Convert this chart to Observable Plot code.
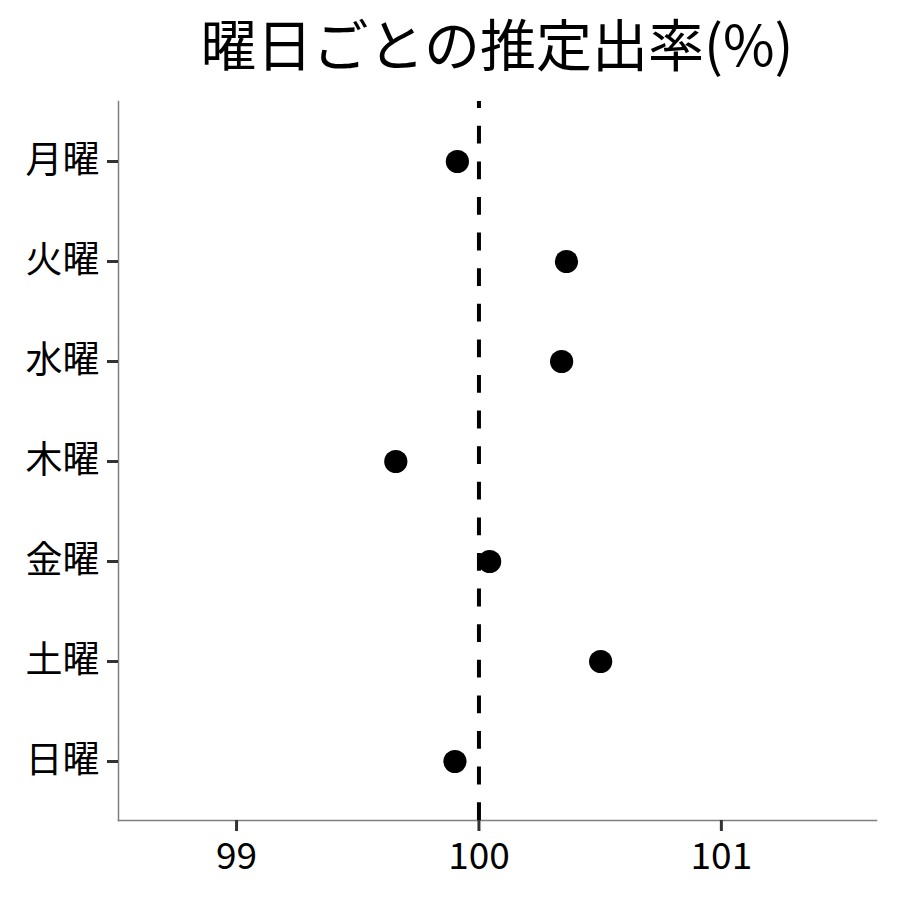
<!DOCTYPE html>
<html><head><meta charset="utf-8">
<script src="https://cdn.jsdelivr.net/npm/d3@7"></script>
<script src="https://cdn.jsdelivr.net/npm/@observablehq/plot@0.6"></script>
<style>
body{margin:0;background:#fff;font-family:"Noto Sans CJK JP";}
#title{width:900px;height:90px;box-sizing:border-box;padding:14px 24px 0 118px;text-align:center;font-size:56px;line-height:56px;color:#000;white-space:nowrap;}
#chart svg{display:block;}
#chart g[aria-label$="-axis tick"], #chart g[aria-label$="-axis tick"] path{stroke-width:3px;stroke:#333;}
</style></head><body>
<div id="title">曜日ごとの推定出率(%)</div>
<div id="chart"></div>
<script>
const days = ["月曜","火曜","水曜","木曜","金曜","土曜","日曜"];
const rates = [99.911, 100.361, 100.341, 99.657, 100.044, 100.502, 99.901];
const xTicks = [99, 100, 101];
const refLine = [100];
const xDomain = [98.513, 101.64];

const data = days.map((d, i) => ({day: d, rate: rates[i]}));

const chart = Plot.plot({
  width: 900, height: 810,
  marginTop: 11, marginBottom: 80, marginLeft: 118, marginRight: 24,
  style: {fontFamily: "Noto Sans CJK JP", fontSize: "37px", color: "#000", background: "#fff"},
  x: {domain: xDomain, label: null},
  y: {type: "point", domain: days, padding: 0.595, label: null},
  marks: [
    Plot.frame({anchor: "left", stroke: "#7f7f7f", strokeWidth: 1.5}),
    Plot.frame({anchor: "bottom", stroke: "#7f7f7f", strokeWidth: 1.5}),
    Plot.axisX({ticks: xTicks, tickSize: 11, tickPadding: 11, tickFormat: d => String(d), stroke: "#333", strokeWidth: 3, fill: "#000", label: null}),
    Plot.axisY({tickSize: 11, tickPadding: 8, stroke: "#333", strokeWidth: 3, fill: "#000", label: null}),
    Plot.ruleX(refLine, {stroke: "#000", strokeWidth: 4, strokeDasharray: "17.8,17.8", strokeDashoffset: 10.8}),
    Plot.dot(data, {x: "rate", y: "day", r: 11.6, fill: "#000", stroke: "none"})
  ]
});
document.getElementById("chart").appendChild(chart);
</script>
</body></html>
